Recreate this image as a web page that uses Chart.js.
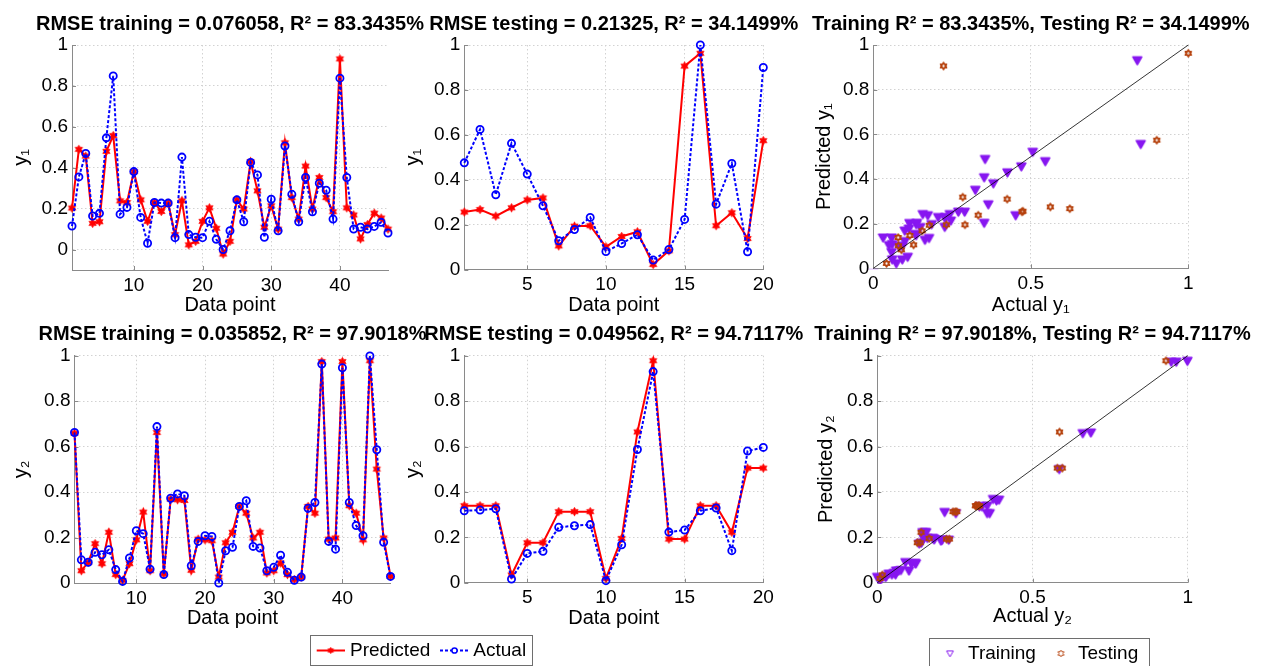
<!DOCTYPE html>
<html>
<head>
<meta charset="utf-8">
<script src="https://cdn.jsdelivr.net/npm/chart.js@4.4.0/dist/chart.umd.min.js"></script>
<style>
html,body{margin:0;padding:0;background:#fff;width:1265px;height:666px;overflow:hidden;position:relative}
canvas{position:absolute}
</style>
</head>
<body>
<canvas id="tl"></canvas>
<canvas id="tm"></canvas>
<canvas id="tr"></canvas>
<canvas id="bl"></canvas>
<canvas id="bm"></canvas>
<canvas id="br"></canvas>
<script>
// ---------------- DATA ----------------
// Output 1, training set (47 points)
const trainPredY1 = [0.203,0.49,0.457,0.128,0.136,0.48,0.557,0.238,0.23,0.381,0.243,0.138,0.23,0.186,0.227,0.073,0.238,0.023,0.04,0.138,0.204,0.104,-0.022,0.04,0.243,0.198,0.43,0.287,0.109,0.214,0.1,0.522,0.254,0.149,0.408,0.198,0.352,0.254,0.185,0.932,0.204,0.169,0.052,0.122,0.178,0.154,0.1];
const trainActY1  = [0.115,0.355,0.47,0.164,0.177,0.546,0.849,0.173,0.206,0.381,0.157,0.031,0.23,0.227,0.227,0.058,0.452,0.073,0.06,0.058,0.138,0.05,0.0,0.092,0.243,0.136,0.426,0.365,0.06,0.246,0.092,0.506,0.27,0.136,0.352,0.185,0.324,0.29,0.149,0.838,0.352,0.1,0.109,0.1,0.113,0.133,0.081];
// Output 1, testing set (20 points)
const testPredY1 = [0.256,0.267,0.238,0.275,0.31,0.319,0.105,0.193,0.195,0.101,0.147,0.168,0.022,0.083,0.906,0.963,0.195,0.253,0.138,0.574];
const testActY1  = [0.475,0.624,0.333,0.562,0.425,0.284,0.128,0.178,0.232,0.08,0.116,0.155,0.042,0.089,0.223,1.0,0.291,0.472,0.079,0.9];
// Output 2, training set
const trainPredY2 = [0.659,0.054,0.091,0.173,0.085,0.223,0.037,0.012,0.085,0.19,0.312,0.054,0.662,0.04,0.369,0.366,0.363,0.056,0.193,0.19,0.186,0.026,0.177,0.223,0.337,0.307,0.198,0.223,0.044,0.054,0.088,0.037,0.015,0.026,0.337,0.307,0.974,0.193,0.198,0.974,0.34,0.307,0.19,0.978,0.501,0.198,0.029];
const trainActY2  = [0.662,0.102,0.091,0.135,0.124,0.146,0.059,0.007,0.11,0.23,0.217,0.061,0.688,0.037,0.373,0.392,0.384,0.076,0.183,0.208,0.205,0.0,0.142,0.157,0.337,0.362,0.161,0.154,0.054,0.069,0.122,0.047,0.012,0.026,0.329,0.354,0.963,0.183,0.149,0.947,0.354,0.253,0.208,0.999,0.586,0.179,0.029];
// Output 2, testing set
const testPredY2 = [0.339,0.339,0.339,0.034,0.176,0.176,0.313,0.313,0.313,0.019,0.195,0.664,0.978,0.192,0.192,0.339,0.339,0.222,0.505,0.505];
const testActY2  = [0.317,0.32,0.326,0.016,0.129,0.138,0.244,0.251,0.256,0.009,0.167,0.587,0.93,0.223,0.232,0.317,0.329,0.141,0.58,0.596];

const titles = {
  tl: 'RMSE training = 0.076058, R\u00B2 = 83.3435%',
  tm: 'RMSE testing = 0.21325, R\u00B2 = 34.1499%',
  tr: 'Training R\u00B2 = 83.3435%, Testing R\u00B2 = 34.1499%',
  bl: 'RMSE training = 0.035852, R\u00B2 = 97.9018%',
  bm: 'RMSE testing = 0.049562, R\u00B2 = 94.7117%',
  br: 'Training R\u00B2 = 97.9018%, Testing R\u00B2 = 94.7117%'
};
const yLabels = {tl:'y\u2081', tm:'y\u2081', tr:'Predicted y\u2081', bl:'y\u2082', bm:'y\u2082', br:'Predicted y\u2082'};
const xLabels = {tl:'Data point', tm:'Data point', tr:'Actual y\u2081', bl:'Data point', bm:'Data point', br:'Actual y\u2082'};
const yTicks = [0,0.2,0.4,0.6,0.8,1];
const xTicksTrain = [10,20,30,40];
const xTicksTest = [5,10,15,20];
const xTicksScatter = [0,0.5,1];
const lineLegendLabels = ['Predicted','Actual'];
const scatterLegendLabels = ['Training','Testing'];

// ---------------- LAYOUT / STYLE ----------------
const FONT = '"Liberation Sans", Arial, "DejaVu Sans", sans-serif';
const RED = '#ff0000', BLUE = '#0000ff', PURPLE = '#8717f0', BROWN = '#b5400b';
const AXIS = '#8a8a8a', GRID = '#d2d2d2';
const LAYOUT = {
  tl: {canvas:[0,0,430,340],   area:[72,45,388,270],          yTitleX:21,  xTitleY:305},
  tm: {canvas:[392,0,423,340], area:[464.3,45,763.3,269.5],   yTitleX:413, xTitleY:305},
  tr: {canvas:[800,0,465,340], area:[873.3,45,1188.3,268.3],  yTitleX:824, xTitleY:305},
  bl: {canvas:[0,318,560,348], area:[74.5,355.7,390.5,583],   yTitleX:21,  xTitleY:618},
  bm: {canvas:[392,318,423,348], area:[464.3,355.7,763.3,582.7], yTitleX:413, xTitleY:618},
  br: {canvas:[800,318,465,348], area:[877.3,355.7,1187.7,582.7], yTitleX:826, xTitleY:616.5}
};

function starCanvas(outerR, innerR, fill, stroke, lw) {
  const pad = Math.ceil(lw) + 1;
  const s = Math.ceil(2 * outerR + 2 * pad);
  const c = document.createElement('canvas'); c.width = s; c.height = s;
  const g = c.getContext('2d');
  g.beginPath();
  for (let k = 0; k < 12; k++) {
    const r = k % 2 === 0 ? outerR : innerR;
    const a = -Math.PI / 2 + k * Math.PI / 6;
    const px = s / 2 + r * Math.cos(a), py = s / 2 + r * Math.sin(a);
    if (k) g.lineTo(px, py); else g.moveTo(px, py);
  }
  g.closePath();
  if (fill) { g.fillStyle = fill; g.fill(); }
  if (stroke) { g.strokeStyle = stroke; g.lineWidth = lw; g.lineJoin = 'round'; g.stroke(); }
  return c;
}
function triCanvas(r, fill, stroke, lw) {
  const pad = Math.ceil(lw) + 1;
  const s = Math.ceil(2 * r + 2 * pad);
  const c = document.createElement('canvas'); c.width = s; c.height = s;
  const g = c.getContext('2d');
  const cx = s / 2, cy = s / 2;
  g.beginPath();
  g.moveTo(cx - r, cy - r * 0.75);
  g.lineTo(cx + r, cy - r * 0.75);
  g.lineTo(cx, cy + r);
  g.closePath();
  if (fill) { g.fillStyle = fill; g.fill(); }
  if (stroke) { g.strokeStyle = stroke; g.lineWidth = lw; g.lineJoin = 'round'; g.stroke(); }
  return c;
}
const redStar = starCanvas(4.2, 2.4, RED, RED, 0.8);
const redStarSmall = starCanvas(3.3, 1.9, RED, RED, 0.6);
const purpleTri = triCanvas(4.3, PURPLE, PURPLE, 1.8);
const brownHex = starCanvas(3.3, 1.9, null, BROWN, 1.9);
const purpleTriLegend = triCanvas(3.4, null, PURPLE, 1);
const brownHexLegend = starCanvas(3.4, 2.0, null, BROWN, 1);

function fmt(v) { return String(Math.round(v * 100) / 100); }
function toXY(arr) { return arr.map((v, i) => ({x: i + 1, y: v})); }
function toPairs(xs, ys) { return xs.map((v, i) => ({x: v, y: ys[i]})); }

// legends drawn in page coordinates
function drawLineLegend(ctx, ox, oy) {
  ctx.save();
  ctx.translate(-ox, -oy);
  ctx.fillStyle = '#fff';
  ctx.fillRect(310.7, 635, 222, 30);
  ctx.strokeStyle = '#6e6e6e'; ctx.lineWidth = 1;
  ctx.strokeRect(310.5, 635.5, 222, 30);
  const y = 650.5;
  ctx.strokeStyle = RED; ctx.lineWidth = 2;
  ctx.beginPath(); ctx.moveTo(316.7, y); ctx.lineTo(345, y); ctx.stroke();
  ctx.drawImage(redStarSmall, 330.7 - redStarSmall.width / 2, y - redStarSmall.height / 2);
  ctx.strokeStyle = BLUE; ctx.setLineDash([3, 2]);
  ctx.beginPath(); ctx.moveTo(440, y); ctx.lineTo(469.3, y); ctx.stroke();
  ctx.setLineDash([]);
  ctx.fillStyle = '#fff'; ctx.lineWidth = 1.5;
  ctx.beginPath(); ctx.arc(454.5, y, 2.6, 0, Math.PI * 2); ctx.fill(); ctx.stroke();
  ctx.fillStyle = '#000';
  ctx.font = '19px ' + FONT; ctx.textAlign = 'left'; ctx.textBaseline = 'middle';
  ctx.fillText(lineLegendLabels[0], 350, y);
  ctx.fillText(lineLegendLabels[1], 473.3, y);
  ctx.restore();
}
function drawScatterLegend(ctx, ox, oy) {
  ctx.save();
  ctx.translate(-ox, -oy);
  ctx.fillStyle = '#fff';
  ctx.fillRect(929, 638, 220, 34);
  ctx.strokeStyle = '#6e6e6e'; ctx.lineWidth = 1;
  ctx.strokeRect(929.5, 638.5, 220, 34);
  const y = 653.5;
  ctx.drawImage(purpleTriLegend, 950 - purpleTriLegend.width / 2, y - purpleTriLegend.height / 2);
  ctx.drawImage(brownHexLegend, 1061 - brownHexLegend.width / 2, y - brownHexLegend.height / 2);
  ctx.fillStyle = '#000';
  ctx.font = '19px ' + FONT; ctx.textAlign = 'left'; ctx.textBaseline = 'middle';
  ctx.fillText(scatterLegendLabels[0], 968, y);
  ctx.fillText(scatterLegendLabels[1], 1078, y);
  ctx.restore();
}
const LEGENDS = {bl: drawLineLegend, br: drawScatterLegend};

const matlabDecor = {
  id: 'matlabDecor',
  beforeDatasetsDraw(chart) {
    const {ctx, chartArea: a, scales} = chart;
    ctx.save();
    ctx.strokeStyle = AXIS; ctx.lineWidth = 1;
    ctx.beginPath();
    scales.x.ticks.forEach(t => {
      const px = Math.round(scales.x.getPixelForValue(t.value)) + 0.5;
      ctx.moveTo(px, a.bottom); ctx.lineTo(px, a.bottom - 4);
    });
    scales.y.ticks.forEach(t => {
      const py = Math.round(scales.y.getPixelForValue(t.value)) + 0.5;
      ctx.moveTo(a.left, py); ctx.lineTo(a.left + 4, py);
    });
    ctx.stroke();
    ctx.restore();
  },
  afterDraw(chart) {
    const id = chart.canvas.id;
    const {ctx, chartArea: a} = chart;
    ctx.save();
    ctx.font = 'bold 20px ' + FONT;
    ctx.textAlign = 'center'; ctx.textBaseline = 'middle'; ctx.fillStyle = '#000';
    ctx.fillText(titles[id], (a.left + a.right) / 2, a.top - 21);
    ctx.restore();
    if (LEGENDS[id]) {
      const c = LAYOUT[id].canvas;
      LEGENDS[id](ctx, c[0], c[1]);
    }
  }
};

function scalesFor(id, xmin, xmax, xticks, ymin, ymax) {
  const L = LAYOUT[id];
  const [cl] = L.canvas;
  const [al, at, ar, ab] = L.area;
  const xh = L.xTitleY - ab + 12;
  return {
    x: {
      type: 'linear', min: xmin, max: xmax,
      afterBuildTicks: s => { s.ticks = xticks.map(v => ({value: v})); },
      afterFit: s => { s.height = xh; },
      ticks: {autoSkip: false, maxRotation: 0, padding: 4, color: '#000', font: {family: FONT, size: 19}, callback: v => fmt(v)},
      grid: {color: GRID, drawTicks: false, lineWidth: 1},
      border: {display: true, color: AXIS, width: 1, dash: [1.5, 2.5]},
      title: {display: true, text: xLabels[id], color: '#000', font: {family: FONT, size: 20}, padding: {top: 0, bottom: 0}}
    },
    y: {
      type: 'linear', min: ymin, max: ymax,
      afterBuildTicks: s => { s.ticks = yTicks.map(v => ({value: v})); },
      afterFit: s => { s.width = al - cl; },
      ticks: {autoSkip: false, padding: 4, color: '#000', font: {family: FONT, size: 19}, callback: v => fmt(v)},
      grid: {color: GRID, drawTicks: false, lineWidth: 1},
      border: {display: true, color: AXIS, width: 1, dash: [1.5, 2.5]},
      title: {display: true, text: yLabels[id], color: '#000', font: {family: FONT, size: 20}, padding: {top: L.yTitleX - cl - 12, bottom: 0}}
    }
  };
}
function layoutPadding(id) {
  const L = LAYOUT[id];
  const [cl, ct, cw, ch] = L.canvas;
  const [al, at, ar, ab] = L.area;
  const xh = L.xTitleY - ab + 12;
  return {left: 0, top: at - ct, right: cl + cw - ar, bottom: ct + ch - ab - xh};
}
function prepCanvas(id) {
  const c = document.getElementById(id);
  const [cl, ct, cw, ch] = LAYOUT[id].canvas;
  c.width = cw; c.height = ch;
  c.style.left = cl + 'px'; c.style.top = ct + 'px';
  c.style.width = cw + 'px'; c.style.height = ch + 'px';
  return c;
}
const baseOptions = id => ({
  responsive: false, animation: false, devicePixelRatio: 1,
  layout: {padding: layoutPadding(id)},
  plugins: {legend: {display: false}, tooltip: {enabled: false}, title: {display: false}},
  elements: {line: {tension: 0}}
});

function makeLineChart(id, pred, act, xmax, xticks, ymin) {
  const opts = baseOptions(id);
  opts.scales = scalesFor(id, 1, xmax, xticks, ymin, 1);
  new Chart(prepCanvas(id), {
    type: 'line',
    data: {datasets: [
      {label: 'Actual', data: toXY(act), borderColor: BLUE, borderWidth: 2, borderDash: [3, 2],
       pointStyle: 'circle', pointRadius: 3.6, pointBorderWidth: 1.8, pointBorderColor: BLUE,
       pointBackgroundColor: 'rgba(255,255,255,0)', fill: false, clip: false, order: 0},
      {label: 'Predicted', data: toXY(pred), borderColor: RED, borderWidth: 2,
       pointStyle: redStar, pointRadius: 4, fill: false, clip: false, order: 1}
    ]},
    options: opts,
    plugins: [matlabDecor]
  });
}
function makeScatterChart(id, trAct, trPred, teAct, tePred) {
  const opts = baseOptions(id);
  opts.scales = scalesFor(id, 0, 1, xTicksScatter, 0, 1);
  const edgeClip = {left: 8, top: 8, right: 8, bottom: 1};
  new Chart(prepCanvas(id), {
    type: 'scatter',
    data: {datasets: [
      {type: 'line', label: 'Ideal', data: [{x: 0, y: 0}, {x: 1, y: 1}], borderColor: '#000', borderWidth: 0.8,
       pointRadius: 0, fill: false, clip: false, order: 0},
      {label: 'Testing', data: toPairs(teAct, tePred), pointStyle: brownHex, pointRadius: 4, clip: edgeClip, order: 1},
      {label: 'Training', data: toPairs(trAct, trPred), pointStyle: purpleTri, pointRadius: 4, clip: edgeClip, order: 2}
    ]},
    options: opts,
    plugins: [matlabDecor]
  });
}

makeLineChart('tl', trainPredY1, trainActY1, 47, xTicksTrain, -0.1);
makeLineChart('tm', testPredY1, testActY1, 20, xTicksTest, 0);
makeScatterChart('tr', trainActY1, trainPredY1, testActY1, testPredY1);
makeLineChart('bl', trainPredY2, trainActY2, 47, xTicksTrain, 0);
makeLineChart('bm', testPredY2, testActY2, 20, xTicksTest, 0);
makeScatterChart('br', trainActY2, trainPredY2, testActY2, testPredY2);
</script>
</body>
</html>
